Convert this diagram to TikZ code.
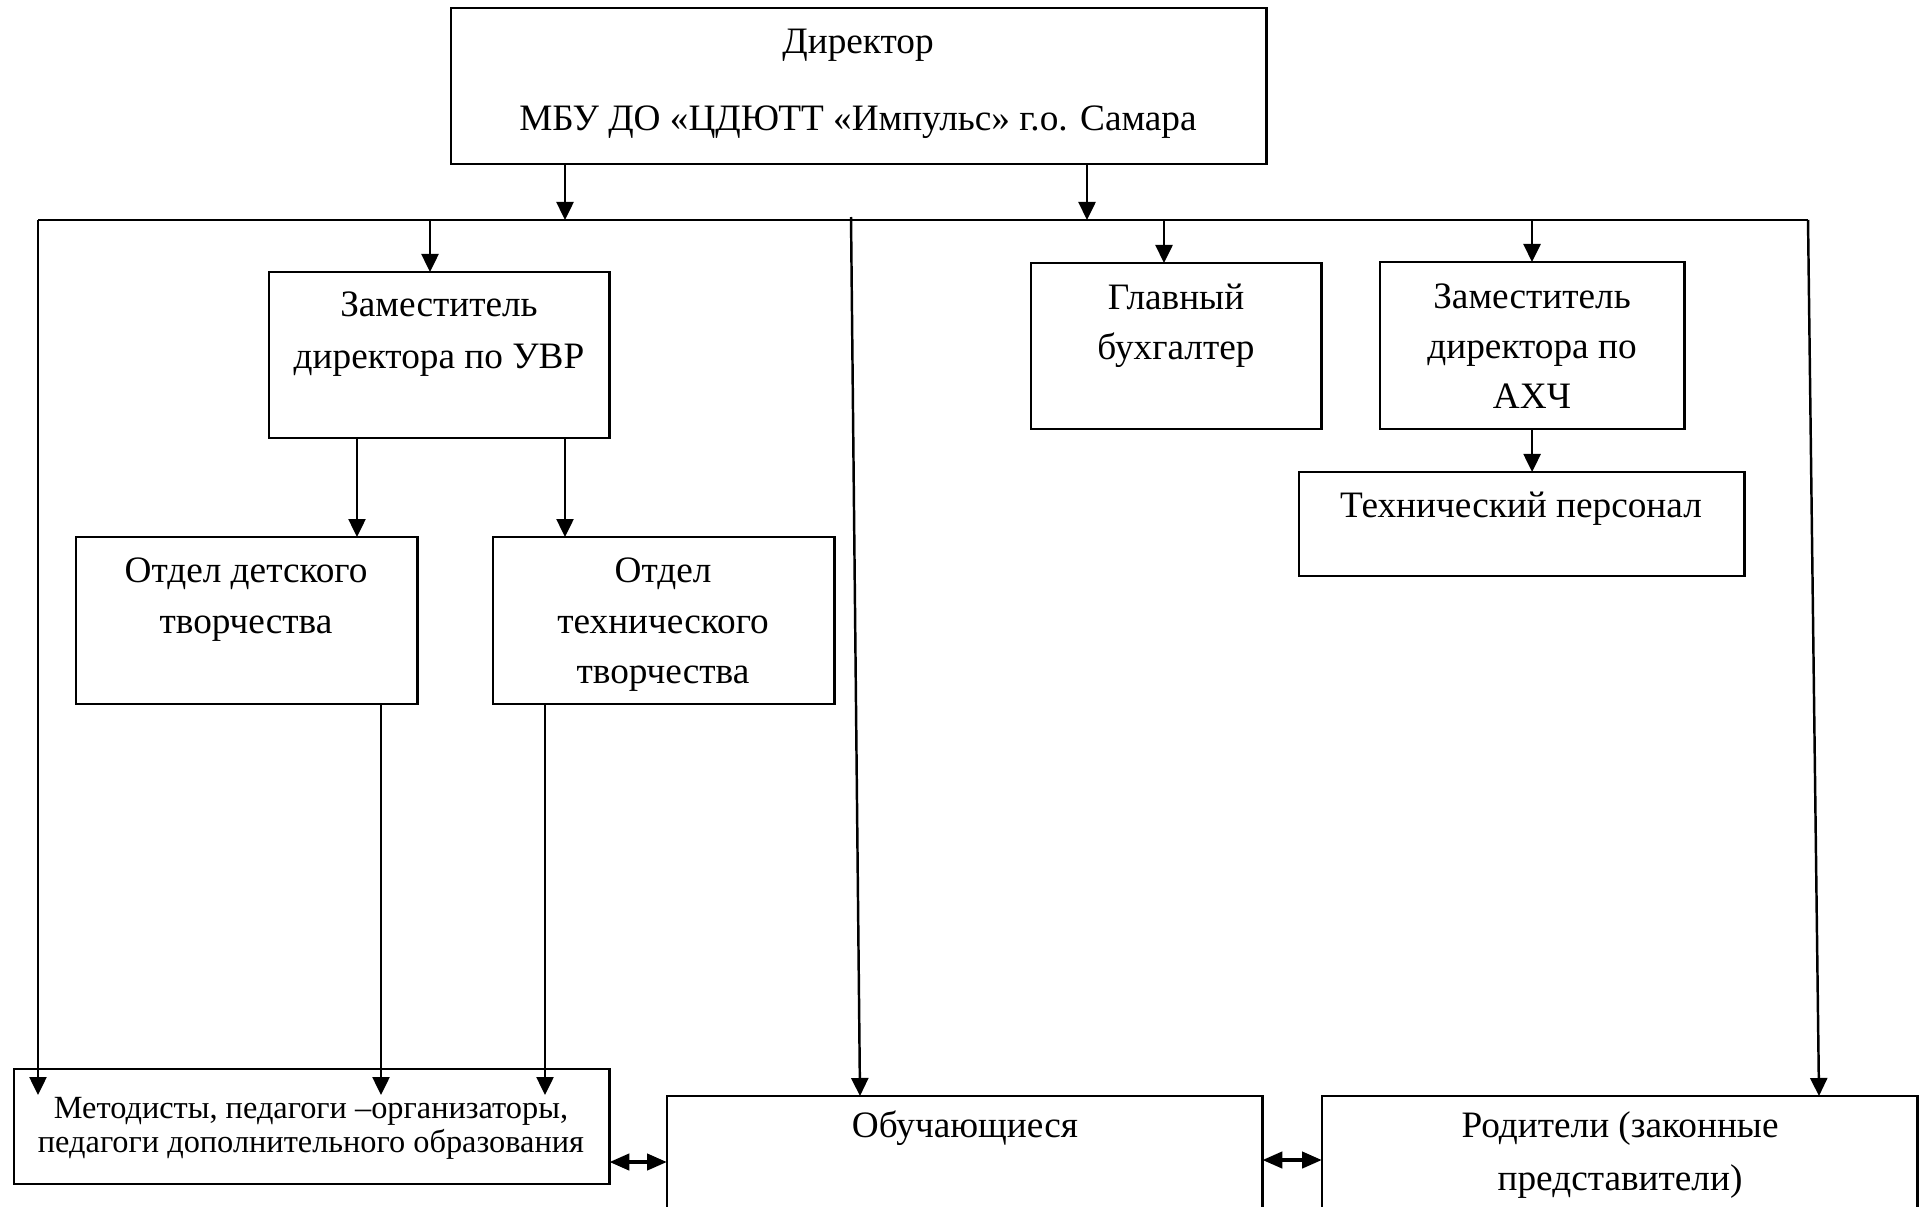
\documentclass[tikz,border=0pt]{standalone}
\usepackage{fontspec}
\setmainfont{Liberation Serif}
\usetikzlibrary{arrows.meta,calc}
\tikzset{
  box/.style={draw, line width=0.75pt, anchor=north west, inner sep=0pt, outer sep=0pt},
  txt/.style={font=\fontsize{10.6}{12}\selectfont, anchor=base, inner sep=0pt},
  stxt/.style={font=\fontsize{9.2}{11}\selectfont, anchor=base, inner sep=0pt},
  arr/.style={line width=0.7pt, -{Triangle[length=0.18cm,width=0.17cm]}},
  darr/.style={line width=1.2pt, {Triangle[length=0.2cm,width=0.16cm]}-{Triangle[length=0.2cm,width=0.16cm]}},
  bus/.style={line width=0.7pt}
}
\begin{document}
\begin{tikzpicture}[x=0.01cm,y=-0.01cm]
\useasboundingbox (0,0) rectangle (1922,1206);
\fill[white] (0,0) rectangle (1922,1206);
\begin{scope}
\clip (0,0) rectangle (1922,1206);
% boxes
\node[box, minimum width=8.15cm, minimum height=1.56cm] (dir) at (451,8) {};
\node[box, minimum width=3.40cm, minimum height=1.66cm] (uvr) at (269,272) {};
\node[box, minimum width=3.41cm, minimum height=1.67cm] (odt) at (76,537) {};
\node[box, minimum width=3.41cm, minimum height=1.67cm] (ott) at (493,537) {};
\node[box, minimum width=2.90cm, minimum height=1.66cm] (buh) at (1031,263) {};
\node[box, minimum width=3.04cm, minimum height=1.67cm] (ahch) at (1380,262) {};
\node[box, minimum width=4.45cm, minimum height=1.04cm] (tech) at (1299,472) {};
\node[box, minimum width=5.95cm, minimum height=1.15cm] (met) at (14,1069) {};
\node[box, minimum width=5.95cm, minimum height=1.60cm] (obu) at (667,1096) {};
\node[box, minimum width=5.95cm, minimum height=1.60cm] (rod) at (1322,1096) {};
% texts
\node[txt] (dirT1) at (858,54) {Директор};
\node[txt] (dirT2) at (858,130) {МБУ ДО «ЦДЮТТ «Импульс» г.о. Самара};
\node[txt] (uvrT1) at (439,316) {Заместитель};
\node[txt] (uvrT2) at (439,368) {директора по УВР};
\node[txt] (odtT1) at (246,582) {Отдел детского};
\node[txt] (odtT2) at (246,633) {творчества};
\node[txt] (ottT1) at (663,582) {Отдел};
\node[txt] (ottT2) at (663,633) {технического};
\node[txt] (ottT3) at (663,683) {творчества};
\node[txt] (buhT1) at (1176,309) {Главный};
\node[txt] (buhT2) at (1176,359) {бухгалтер};
\node[txt] (ahT1) at (1532,308) {Заместитель};
\node[txt] (ahT2) at (1532,358) {директора по};
\node[txt] (ahT3) at (1532,408) {АХЧ};
\node[txt] (techT) at (1521,517) {Технический персонал};
\node[stxt] (metT1) at (311,1118) {Методисты, педагоги –организаторы,};
\node[stxt] (metT2) at (311,1152) {педагоги дополнительного образования};
\node[txt] (obuT) at (965,1137) {Обучающиеся};
\node[txt] (rodT1) at (1620,1137) {Родители (законные};
\node[txt] (rodT2) at (1620,1190) {представители)};
% bus
\coordinate (busL) at (38,220);
\coordinate (busR) at (1808,220);
\draw[bus] (busL) -- (busR);
% director to bus
\coordinate (b1) at (565,220);
\coordinate (b2) at (1087,220);
\draw[arr] (dir.south -| b1) -- (b1);
\draw[arr] (dir.south -| b2) -- (b2);
% bus to boxes
\coordinate (t1) at (430,220);
\draw[arr] (t1) -- (t1 |- uvr.north);
\coordinate (t2) at (1164,220);
\draw[arr] (t2) -- (t2 |- buh.north);
\coordinate (t3) at (1532,220);
\draw[arr] (t3) -- (t3 |- ahch.north);
\draw[arr] (ahch.south) -- (ahch.south |- tech.north);
% uvr to departments
\coordinate (u1) at (357,440);
\coordinate (u2) at (565,440);
\draw[arr] (uvr.south -| u1) -- (u1 |- odt.north);
\draw[arr] (uvr.south -| u2) -- (u2 |- ott.north);
% departments to methodists
\coordinate (m1) at (381,1095);
\coordinate (m2) at (545,1095);
\draw[arr] (odt.south -| m1) -- (m1);
\draw[arr] (ott.south -| m2) -- (m2);
% left vertical
\coordinate (m0) at (38,1095);
\draw[arr] (busL) -- (m0);
% slanted lines
\coordinate (s1) at (851,217);
\coordinate (s2) at (860,1096);
\draw[arr] (s1) -- (s2);
\coordinate (s3) at (1819,1096);
\draw[arr] (busR) -- (s3);
% double arrows
\coordinate (d1) at (640,1162);
\draw[darr] (d1 -| met.east) -- (d1 -| obu.west);
\coordinate (d2) at (1290,1160);
\draw[darr] (d2 -| obu.east) -- (d2 -| rod.west);
\end{scope}
\end{tikzpicture}
\end{document}
